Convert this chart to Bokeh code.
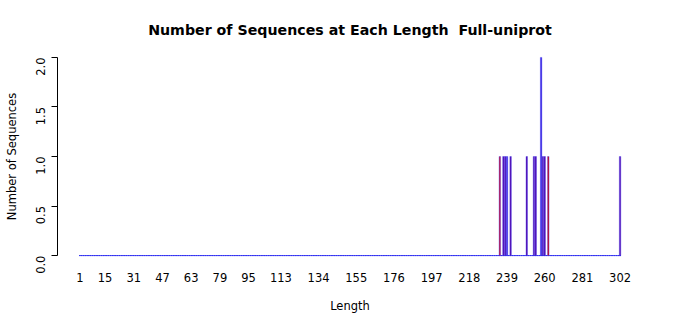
import math
from bokeh.plotting import figure
from bokeh.models import Range1d, FixedTicker, ColumnDataSource
from bokeh.embed import file_html
from bokeh.resources import INLINE

# data
lengths = [235, 237, 238, 239, 241, 250, 254, 255, 258, 259, 260, 262, 302]
counts = [1, 1, 1, 1, 1, 1, 1, 1, 2, 1, 1, 1, 1]
bar_fill = ["#C01040", "#5A10B0", "#5A10B0", "#3A20E0", "#5A10B0", "#5A10B0",
            "#5A10B0", "#5A10B0", "#3A20E0", "#5A10B0", "#5A10B0", "#D01020", "#5A10B0"]
min_len, max_len = 1, 302
x_tick_labels = [1, 15, 31, 47, 63, 79, 95, 113, 134, 155, 176, 197, 218, 239, 260, 281, 302]
y_ticks = [0, 0.5, 1.0, 1.5, 2.0]
title = "Number of Sequences at Each Length\u00a0\u00a0Full-uniprot"

all_len = list(range(min_len, max_len + 1))
zero_src = ColumnDataSource(dict(x=all_len, top=[0] * len(all_len)))
bar_src = ColumnDataSource(dict(x=lengths, top=counts, fill=bar_fill))

FONT = "DejaVu Sans"
p = figure(width=700, height=315, frame_width=585, frame_height=214,
           output_backend="svg", toolbar_location=None, title=title,
           x_range=Range1d(-11.5, 314.5), y_range=Range1d(-0.08, 2.08),
           min_border_left=57, min_border_right=58, min_border_top=49, min_border_bottom=52)
p.outline_line_color = None
p.grid.visible = False
p.background_fill_color = "white"
p.border_fill_color = "white"

p.title.align = "center"
p.title.text_font = FONT
p.title.text_font_size = "14.2px"
p.title.text_font_style = "bold"
p.title.text_color = "black"
p.title.standoff = 23

bw = 1 / 1.2
p.vbar(x="x", top="top", bottom=0, width=bw, source=zero_src,
       fill_color="#3030F0", line_color="#3030F0", line_width=1)
p.vbar(x="x", top="top", bottom=0, width=bw, source=bar_src,
       fill_color="fill", line_color="#3030F0", line_width=0.35)

xa = p.xaxis[0]
xa.ticker = FixedTicker(ticks=x_tick_labels)
xa.axis_line_color = None
xa.major_tick_line_color = None
xa.minor_tick_line_color = None
xa.major_tick_out = 0
xa.major_label_standoff = 9
xa.major_label_text_font = FONT
xa.major_label_text_font_size = "11.5px"
xa.major_label_text_color = "black"
xa.axis_label = "Length"
xa.axis_label_text_font = FONT
xa.axis_label_text_font_size = "11.5px"
xa.axis_label_text_font_style = "normal"
xa.axis_label_text_color = "black"
xa.axis_label_standoff = 14

ya = p.yaxis[0]
ya.ticker = FixedTicker(ticks=y_ticks)
ya.major_label_overrides = {t: f"{t:.1f}" for t in y_ticks}
ya.bounds = (0, 2)
ya.axis_line_color = "black"
ya.major_tick_line_color = "black"
ya.minor_tick_line_color = None
ya.major_tick_out = 6
ya.major_tick_in = 0
ya.major_label_orientation = math.pi / 2
ya.major_label_standoff = 11
ya.major_label_text_font = FONT
ya.major_label_text_font_size = "11.5px"
ya.major_label_text_color = "black"
ya.major_label_text_line_height = 1.0
ya.axis_label = "Number of Sequences"
ya.axis_label_text_font = FONT
ya.axis_label_text_font_size = "11.5px"
ya.axis_label_text_font_style = "normal"
ya.axis_label_text_color = "black"
ya.axis_label_text_line_height = 1.0
ya.axis_label_standoff = 10

open("out.html", "w").write(file_html(p, INLINE))
